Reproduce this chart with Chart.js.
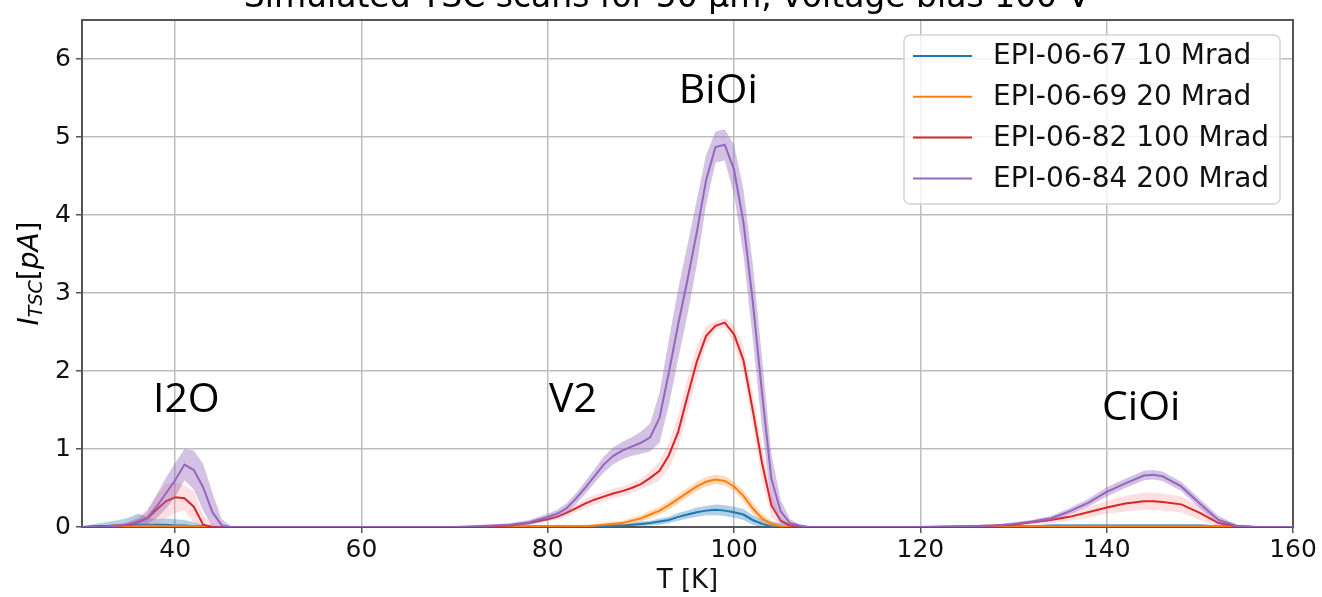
<!DOCTYPE html>
<html>
<head>
<meta charset="utf-8">
<script src="https://cdn.jsdelivr.net/npm/chart.js@4.4.0/dist/chart.umd.min.js"></script>
<style>
html, body { margin: 0; padding: 0; background: #fff; }
#tsc { display: block; }
</style>
</head>
<body>
<canvas id="tsc" width="1322" height="597"></canvas>
<script>
// temperature grid [K]
const temperatures = [
    30, 32, 34, 35, 36, 37, 38, 39, 40, 41, 42, 43, 44, 45, 46, 48, 50,
    60, 70,
    72, 74, 76, 78, 80, 81, 82, 83, 84, 85, 86, 87, 88, 89, 90, 91, 92, 93, 94, 95, 96, 97, 98, 99, 100, 101, 102, 103, 104, 105, 106, 107, 108,
    110, 115, 120, 125,
    128, 130, 132, 134, 136, 138, 140, 142, 144, 145, 146, 148, 150, 152, 154, 156, 158, 160
];

const sampleNames = ['EPI-06-67 10 Mrad', 'EPI-06-69 20 Mrad', 'EPI-06-82 100 Mrad', 'EPI-06-84 200 Mrad'];

// TSC current [pA] and its spread for every sample
const current67 = [
    0, 0.01, 0.02, 0.02, 0.03, 0.03, 0.03, 0.03, 0.02, 0.02, 0.01, 0.01, 0, 0, 0, 0, 0,
    0, 0,
    0, 0, 0, 0.01, 0.01, 0.01, 0.01, 0.01, 0.01, 0.01, 0.01, 0.02, 0.02, 0.03, 0.04, 0.05, 0.07, 0.09, 0.13, 0.16, 0.19, 0.21, 0.22, 0.21, 0.19, 0.16, 0.09, 0.04, 0.01, 0, 0, 0, 0,
    0, 0, 0, 0,
    0, 0.01, 0.01, 0.02, 0.02, 0.02, 0.02, 0.02, 0.02, 0.02, 0.02, 0.02, 0.02, 0.01, 0.01, 0, 0, 0
];
const spread67 = [
    0.01, 0.04, 0.07, 0.10, 0.14, 0.10, 0.07, 0.08, 0.08, 0.07, 0.05, 0.02, 0.01, 0, 0, 0, 0,
    0, 0,
    0, 0, 0, 0.01, 0.01, 0.01, 0.01, 0.01, 0.01, 0.01, 0.01, 0.02, 0.02, 0.02, 0.03, 0.03, 0.04, 0.04, 0.05, 0.05, 0.06, 0.06, 0.07, 0.07, 0.07, 0.07, 0.06, 0.06, 0.06, 0.05, 0.03, 0.02, 0.01,
    0.01, 0, 0, 0,
    0, 0, 0.01, 0.01, 0.01, 0.01, 0.01, 0.01, 0.01, 0.01, 0.01, 0.01, 0.01, 0.01, 0.01, 0, 0, 0
];

const current69 = [
    0, 0, 0, 0, 0.01, 0.01, 0.01, 0.01, 0.01, 0.01, 0.01, 0, 0, 0, 0, 0, 0,
    0, 0,
    0, 0, 0.01, 0.01, 0.01, 0.01, 0.01, 0.01, 0.01, 0.02, 0.03, 0.04, 0.05, 0.08, 0.11, 0.16, 0.21, 0.28, 0.36, 0.44, 0.52, 0.58, 0.61, 0.59, 0.52, 0.40, 0.24, 0.11, 0.04, 0.01, 0, 0, 0,
    0, 0, 0, 0,
    0, 0, 0.01, 0.01, 0.01, 0.01, 0.01, 0.01, 0.01, 0.01, 0.01, 0.01, 0.01, 0.01, 0, 0, 0, 0
];
const spread69 = [
    0, 0, 0, 0.01, 0.01, 0.02, 0.02, 0.02, 0.02, 0.02, 0.01, 0.01, 0, 0, 0, 0, 0,
    0, 0,
    0, 0, 0, 0.01, 0.01, 0.01, 0.01, 0.01, 0.01, 0.02, 0.02, 0.03, 0.03, 0.04, 0.04, 0.05, 0.05, 0.06, 0.06, 0.06, 0.06, 0.06, 0.06, 0.06, 0.06, 0.07, 0.07, 0.06, 0.04, 0.02, 0.01, 0, 0,
    0, 0, 0, 0,
    0, 0, 0, 0, 0, 0, 0, 0, 0, 0, 0, 0, 0, 0, 0, 0, 0, 0
];

const current82 = [
    0, 0.01, 0.02, 0.03, 0.06, 0.11, 0.22, 0.33, 0.38, 0.37, 0.26, 0.03, 0, 0, 0, 0, 0,
    0, 0,
    0, 0.01, 0.02, 0.05, 0.10, 0.13, 0.18, 0.24, 0.30, 0.35, 0.39, 0.43, 0.46, 0.50, 0.55, 0.63, 0.72, 0.92, 1.22, 1.68, 2.12, 2.45, 2.58, 2.62, 2.47, 2.14, 1.50, 0.82, 0.28, 0.08, 0.02, 0, 0,
    0, 0, 0, 0.01,
    0.02, 0.03, 0.06, 0.09, 0.13, 0.19, 0.25, 0.30, 0.33, 0.33, 0.32, 0.29, 0.18, 0.05, 0.01, 0, 0, 0
];
const spread82 = [
    0, 0.01, 0.02, 0.04, 0.07, 0.12, 0.18, 0.22, 0.20, 0.16, 0.20, 0.12, 0.04, 0, 0, 0, 0,
    0, 0,
    0, 0.01, 0.01, 0.02, 0.03, 0.04, 0.05, 0.05, 0.06, 0.06, 0.06, 0.06, 0.06, 0.06, 0.07, 0.09, 0.12, 0.16, 0.20, 0.22, 0.20, 0.12, 0.06, 0.06, 0.12, 0.18, 0.22, 0.22, 0.15, 0.06, 0.02, 0, 0,
    0, 0, 0, 0.01,
    0.01, 0.02, 0.03, 0.04, 0.05, 0.07, 0.08, 0.10, 0.11, 0.11, 0.11, 0.10, 0.09, 0.06, 0.03, 0.01, 0, 0
];

const current84 = [
    0, 0, 0.02, 0.04, 0.07, 0.12, 0.26, 0.43, 0.60, 0.80, 0.73, 0.51, 0.19, 0.02, 0, 0, 0,
    0, 0,
    0.01, 0.02, 0.03, 0.06, 0.13, 0.17, 0.24, 0.36, 0.50, 0.65, 0.80, 0.91, 0.98, 1.03, 1.08, 1.15, 1.40, 1.98, 2.60, 3.17, 3.78, 4.45, 4.87, 4.90, 4.58, 3.91, 2.90, 1.72, 0.62, 0.20, 0.05, 0.02, 0,
    0, 0, 0, 0.01,
    0.02, 0.04, 0.07, 0.11, 0.20, 0.31, 0.45, 0.56, 0.66, 0.67, 0.65, 0.52, 0.30, 0.09, 0.01, 0, 0, 0
];
const spread84 = [
    0, 0, 0.01, 0.02, 0.04, 0.08, 0.15, 0.20, 0.22, 0.20, 0.25, 0.30, 0.25, 0.08, 0.01, 0, 0,
    0, 0,
    0.01, 0.01, 0.02, 0.03, 0.04, 0.05, 0.06, 0.07, 0.08, 0.09, 0.10, 0.11, 0.11, 0.12, 0.14, 0.18, 0.32, 0.42, 0.45, 0.45, 0.42, 0.32, 0.20, 0.20, 0.32, 0.42, 0.48, 0.45, 0.32, 0.15, 0.05, 0.02, 0.01,
    0, 0, 0, 0.01,
    0.01, 0.02, 0.02, 0.03, 0.04, 0.05, 0.06, 0.06, 0.06, 0.06, 0.06, 0.06, 0.06, 0.05, 0.02, 0.01, 0, 0
];

// defect peak labels
const defectNames = ['I2O', 'V2', 'BiOi', 'CiOi'];
const defectT = [41.2, 82.7, 98.3, 143.7];
const defectI = [1.47, 1.47, 5.43, 1.37];

const tempTicks = [40, 60, 80, 100, 120, 140, 160];
const currentTicks = [0, 1, 2, 3, 4, 5, 6];

const lineColors = ['#1f77b4', '#ff7f0e', '#d62728', '#9467bd'];
const bandColors = ['rgba(31,119,180,0.35)', 'rgba(255,127,14,0.28)', 'rgba(255,110,110,0.22)', 'rgba(148,103,189,0.4)'];

const FONT = 'DejaVu Sans';

function seriesSets(mean, spread, k) {
    const upper = temperatures.map((t, i) => ({x: t, y: mean[i] + spread[i]}));
    const lower = temperatures.map((t, i) => ({x: t, y: Math.max(0, mean[i] - spread[i])}));
    const line = temperatures.map((t, i) => ({x: t, y: mean[i]}));
    const ord = 8 - 2 * k;
    return [
        {label: 'hi', data: upper, borderColor: 'rgba(0,0,0,0)', borderWidth: 0, pointRadius: 0,
         fill: '+1', backgroundColor: bandColors[k], order: ord},
        {label: 'lo', data: lower, borderColor: 'rgba(0,0,0,0)', borderWidth: 0, pointRadius: 0,
         fill: false, order: ord},
        {label: sampleNames[k], data: line, borderColor: lineColors[k], borderWidth: 2, pointRadius: 0,
         fill: false, order: ord - 1}
    ];
}

const datasets = [].concat(
    seriesSets(current67, spread67, 0),
    seriesSets(current69, spread69, 1),
    seriesSets(current82, spread82, 2),
    seriesSets(current84, spread84, 3)
);

// title partly above the canvas, frame, peak labels, y title and legend box
const decorations = {
    id: 'decorations',
    beforeDatasetsDraw(chart) {
        const ctx = chart.ctx;
        const area = chart.chartArea;
        ctx.save();
        ctx.strokeStyle = '#555';
        ctx.lineWidth = 2;
        ctx.strokeRect(area.left, area.top, area.right - area.left, area.bottom - area.top);
        ctx.restore();
    },
    afterDatasetsDraw(chart) {
        const ctx = chart.ctx;
        const area = chart.chartArea;
        const xs = chart.scales.x, ys = chart.scales.y;
        ctx.save();

        ctx.fillStyle = '#000';
        ctx.font = '33px "' + FONT + '"';
        ctx.textAlign = 'center';
        ctx.textBaseline = 'alphabetic';
        ctx.fillText('Simulated TSC scans for 50 μm, voltage bias 100 V', 667, 7);

        ctx.font = '41px "Open Sans"';
        defectNames.forEach((name, i) => {
            ctx.fillText(name, xs.getPixelForValue(defectT[i]), ys.getPixelForValue(defectI[i]));
        });

        // I_TSC[pA]
        const big = 'italic 28px "' + FONT + '"';
        const small = 'italic 19px "' + FONT + '"';
        const plain = '28px "' + FONT + '"';
        const parts = [['I', big, 0], ['TSC', small, 4], ['[', plain, 0], ['pA', big, 0], [']', plain, 0]];
        let total = 0;
        parts.forEach(p => { ctx.font = p[1]; total += ctx.measureText(p[0]).width; });
        ctx.translate(38, (area.top + area.bottom) / 2);
        ctx.rotate(-Math.PI / 2);
        ctx.textAlign = 'left';
        let px = -total / 2;
        parts.forEach(p => {
            ctx.font = p[1];
            ctx.fillText(p[0], px, p[2]);
            px += ctx.measureText(p[0]).width;
        });
        ctx.restore();
    },
    afterDraw(chart) {
        const ctx = chart.ctx;
        const area = chart.chartArea;
        const w = 376, h = 169;
        const bx = area.right - 13 - w, by = area.top + 15;
        ctx.save();
        ctx.beginPath();
        ctx.roundRect(bx, by, w, h, 6);
        ctx.fillStyle = 'rgba(255,255,255,0.8)';
        ctx.fill();
        ctx.strokeStyle = '#d4d4d4';
        ctx.lineWidth = 1.5;
        ctx.stroke();
        ctx.font = '28px "' + FONT + '"';
        ctx.textAlign = 'left';
        ctx.textBaseline = 'middle';
        sampleNames.forEach((name, i) => {
            const ly = by + 21 + i * 40.8;
            ctx.strokeStyle = lineColors[i];
            ctx.lineWidth = 2;
            ctx.beginPath();
            ctx.moveTo(bx + 9, ly);
            ctx.lineTo(bx + 68, ly);
            ctx.stroke();
            ctx.fillStyle = '#111';
            ctx.fillText(name, bx + 89, ly + 1);
        });
        ctx.restore();
    }
};

new Chart(document.getElementById('tsc'), {
    type: 'line',
    data: { datasets: datasets },
    options: {
        responsive: false,
        animation: false,
        events: [],
        layout: { padding: { left: 0, top: 11, right: 29, bottom: 0 } },
        elements: { line: { tension: 0 } },
        plugins: {
            legend: { display: false },
            tooltip: { enabled: false },
            filler: { propagate: false }
        },
        scales: {
            x: {
                type: 'linear',
                min: 30,
                max: 160,
                afterBuildTicks: s => { s.ticks = tempTicks.map(v => ({value: v})); },
                afterFit: s => { s.height = 70; },
                grid: { color: '#bdbdbd', lineWidth: 1.5, tickLength: 6, tickColor: '#555', tickWidth: 1.5 },
                border: { color: '#555', width: 2 },
                ticks: { font: { family: FONT, size: 25 }, color: '#111', padding: 2, maxRotation: 0 },
                title: { display: true, text: 'T [K]', font: { family: FONT, size: 26 }, color: '#111',
                         padding: { top: 0, bottom: 0 } }
            },
            y: {
                min: 0,
                max: 6.5,
                afterBuildTicks: s => { s.ticks = currentTicks.map(v => ({value: v})); },
                afterFit: s => { s.width = 82; },
                grid: { color: '#bdbdbd', lineWidth: 1.5, tickLength: 6, tickColor: '#555', tickWidth: 1.5 },
                border: { color: '#555', width: 2 },
                ticks: { font: { family: FONT, size: 25 }, color: '#111', padding: 5 }
            }
        }
    },
    plugins: [decorations]
});
</script>
</body>
</html>
